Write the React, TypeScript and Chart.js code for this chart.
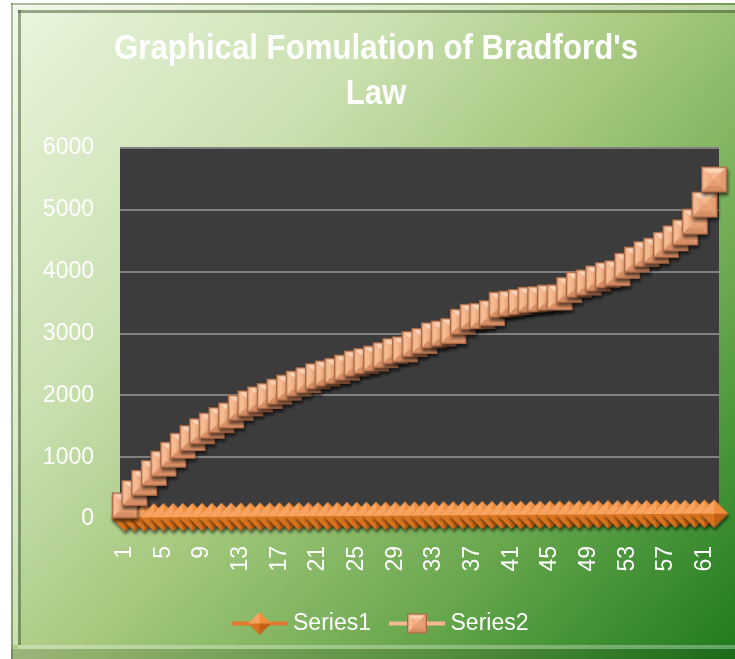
import React, { useEffect, useRef } from 'react';
import { Chart, registerables } from 'chart.js';

Chart.register(...registerables);

const categories = [
  '1', '2', '3', '4', '5', '6', '7', '8', '9', '10',
  '11', '12', '13', '14', '15', '16', '17', '18', '19', '20',
  '21', '22', '23', '24', '25', '26', '27', '28', '29', '30',
  '31', '32', '33', '34', '35', '36', '37', '38', '39', '40',
  '41', '42', '43', '44', '45', '46', '47', '48', '49', '50',
  '51', '52', '53', '54', '55', '56', '57', '58', '59', '60',
  '61', '62',
];

const series1 = [
  25, 26, 27, 28, 29, 30, 31, 32, 33, 34,
  35, 36, 37, 38, 39, 40, 41, 42, 43, 44,
  45, 46, 47, 48, 49, 50, 51, 52, 53, 54,
  55, 56, 57, 58, 59, 60, 61, 62, 63, 64,
  65, 66, 67, 68, 69, 70, 71, 72, 73, 74,
  75, 76, 77, 78, 79, 80, 81, 82, 83, 84,
  85, 86,
];

const series2 = [
  220, 420, 585, 745, 895, 1040, 1185, 1310, 1420, 1510,
  1600, 1675, 1800, 1870, 1935, 1990, 2060, 2125, 2190, 2245,
  2310, 2355, 2395, 2450, 2515, 2555, 2595, 2650, 2715, 2745,
  2830, 2880, 2970, 3000, 3040, 3190, 3270, 3285, 3330, 3465,
  3485, 3510, 3545, 3555, 3580, 3585, 3705, 3790, 3825, 3890,
  3945, 3975, 4095, 4195, 4285, 4340, 4435, 4540, 4635, 4810,
  5085, 5490,
];

const seriesNames = ['Series1', 'Series2'];
const titleLines = ["Graphical Fomulation of Bradford's", 'Law'];
const yMin = 0;
const yMax = 6000;
const yStep = 1000;

const TICK_FONT = "'Liberation Sans', Arial, sans-serif";
const TITLE_FONT = "'Liberation Sans', Arial, sans-serif";

type Pt = [number, number];

function poly(ctx: CanvasRenderingContext2D, pts: Pt[], col: string) {
  ctx.beginPath();
  ctx.moveTo(pts[0][0], pts[0][1]);
  for (let i = 1; i < pts.length; i++) ctx.lineTo(pts[i][0], pts[i][1]);
  ctx.closePath();
  ctx.fillStyle = col;
  ctx.fill();
}

function drawSquare(ctx: CanvasRenderingContext2D, cx: number, cy: number, s: number, shadow: boolean) {
  const h = s / 2;
  const x0 = cx - h, y0 = cy - h, x1 = cx + h, y1 = cy + h;
  if (shadow) {
    ctx.save();
    ctx.shadowColor = 'rgba(0,0,0,0.6)';
    ctx.shadowBlur = 3;
    ctx.shadowOffsetX = 1;
    ctx.shadowOffsetY = 3;
    ctx.fillStyle = '#b8724d';
    ctx.fillRect(x0, y0, s, s);
    ctx.restore();
  }
  ctx.fillStyle = '#c07a55';
  ctx.fillRect(x0, y0, s, s);
  const r = 1.5;
  const a0 = x0 + r, b0 = y0 + r, a1 = x1 - r, b1 = y1 - r;
  poly(ctx, [[a0, b0], [a1, b0], [cx, cy]], '#fcd4b6');
  poly(ctx, [[a0, b0], [cx, cy], [a0, b1]], '#f5bb93');
  poly(ctx, [[a1, b0], [a1, b1], [cx, cy]], '#e59d73');
  poly(ctx, [[a0, b1], [cx, cy], [a1, b1]], '#d88f66');
  ctx.fillStyle = 'rgba(240,166,122,0.6)';
  const inner = s * 0.26;
  ctx.fillRect(cx - inner, cy - inner, inner * 2, inner * 2);
  ctx.strokeStyle = '#a96744';
  ctx.lineWidth = 1;
  ctx.strokeRect(x0 + 0.5, y0 + 0.5, s - 1, s - 1);
}

function drawDiamond(ctx: CanvasRenderingContext2D, cx: number, cy: number, r: number, shadow: boolean) {
  if (shadow) {
    ctx.save();
    ctx.shadowColor = 'rgba(0,0,0,0.55)';
    ctx.shadowBlur = 3;
    ctx.shadowOffsetX = 1;
    ctx.shadowOffsetY = 3;
    poly(ctx, [[cx - r, cy], [cx, cy - r], [cx + r, cy], [cx, cy + r]], '#b85a14');
    ctx.restore();
  }
  poly(ctx, [[cx - r, cy], [cx, cy - r], [cx, cy]], '#f8a460');
  poly(ctx, [[cx, cy - r], [cx + r, cy], [cx, cy]], '#f0903e');
  poly(ctx, [[cx - r, cy], [cx, cy], [cx, cy + r]], '#d8741f');
  poly(ctx, [[cx, cy], [cx + r, cy], [cx, cy + r]], '#c06014');
}

function squareMarker(s: number): HTMLCanvasElement {
  const pad = 5;
  const c = document.createElement('canvas');
  c.width = s + pad * 2;
  c.height = s + pad * 2;
  const ctx = c.getContext('2d')!;
  drawSquare(ctx, c.width / 2, c.height / 2, s, true);
  return c;
}

function diamondMarker(r: number): HTMLCanvasElement {
  const pad = 5;
  const c = document.createElement('canvas');
  c.width = r * 2 + pad * 2;
  c.height = r * 2 + pad * 2;
  const ctx = c.getContext('2d')!;
  drawDiamond(ctx, c.width / 2, c.height / 2, r, true);
  return c;
}

function legendImage(kind: 'diamond' | 'square', lineColor: string): HTMLCanvasElement {
  const c = document.createElement('canvas');
  c.width = 56;
  c.height = 30;
  const ctx = c.getContext('2d')!;
  ctx.fillStyle = lineColor;
  ctx.fillRect(0, 13, 56, 4);
  if (kind === 'diamond') drawDiamond(ctx, 28, 15, 11.5, false);
  else drawSquare(ctx, 28, 15, 20, false);
  return c;
}

const bgPlugin = {
  id: 'bgFrame',
  beforeDraw(chart: any) {
    const { ctx, width, height, chartArea } = chart;
    ctx.save();
    ctx.fillStyle = '#ffffff';
    ctx.fillRect(0, 0, width, height);
    const g = ctx.createLinearGradient(11, 3, width, height);
    g.addColorStop(0, '#eaf5de');
    g.addColorStop(0.3, '#c9e0b0');
    g.addColorStop(0.5, '#a6c87e');
    g.addColorStop(0.75, '#66a64c');
    g.addColorStop(1, '#1f7a1f');
    ctx.fillStyle = g;
    ctx.fillRect(11, 3, width - 11, height - 3);
    // bevel frame
    ctx.fillStyle = 'rgba(60,80,40,0.35)';
    ctx.fillRect(11, 3, 2, height - 3);
    ctx.fillRect(11, 3, width - 11, 2);
    ctx.fillStyle = 'rgba(255,255,255,0.35)';
    ctx.fillRect(13, 5, 5, height - 19);
    ctx.fillRect(13, 5, width - 13, 5);
    ctx.fillStyle = 'rgba(50,70,30,0.45)';
    ctx.fillRect(18, 10, 3, height - 24);
    ctx.fillRect(18, 10, width - 18, 3);
    ctx.fillStyle = 'rgba(255,255,255,0.3)';
    ctx.fillRect(18, 645, width - 18, 4);
    ctx.fillStyle = 'rgba(0,0,0,0.12)';
    ctx.fillRect(11, 649, width - 11, height - 649);
    // plot area
    ctx.fillStyle = '#3c3c3c';
    ctx.fillRect(chartArea.left, chartArea.top, chartArea.right - chartArea.left, chartArea.bottom - chartArea.top);
    ctx.restore();
  },
  afterLayout(chart: any) {
    if (chart.legend) {
      chart.legend.left += 9;
      chart.legend.right += 9;
    }
  },
  afterDraw(chart: any) {
    // chart title, condensed bold white text
    const ctx = chart.ctx;
    ctx.save();
    ctx.fillStyle = '#ffffff';
    ctx.font = `bold 35px ${TITLE_FONT}`;
    ctx.textBaseline = 'alphabetic';
    ctx.textAlign = 'center';
    const w1 = ctx.measureText(titleLines[0]).width;
    const sx = 524 / w1;
    const baselines = [59, 104];
    titleLines.forEach((line, i) => {
      ctx.save();
      ctx.translate(376, baselines[i]);
      ctx.scale(sx, 1);
      ctx.fillText(line, 0, 0);
      ctx.restore();
    });
    ctx.restore();
  },
};

export default function App() {
  const ref = useRef<HTMLCanvasElement | null>(null);

  useEffect(() => {
    if (!ref.current) return;
    const sq = squareMarker(26);
    const dm = diamondMarker(14);
    const lg1 = legendImage('diamond', '#e4782f');
    const lg2 = legendImage('square', '#f6b792');

    const chart = new Chart(ref.current, {
      type: 'line',
      data: {
        labels: categories,
        datasets: [
          {
            label: seriesNames[0],
            data: series1,
            borderColor: '#e4782f',
            borderWidth: 3,
            pointStyle: dm as any,
            pointRadius: 13,
            order: 1,
            clip: false as any,
          },
          {
            label: seriesNames[1],
            data: series2,
            borderColor: '#f6b792',
            borderWidth: 3,
            pointStyle: sq as any,
            pointRadius: 13,
            order: 0,
            clip: false as any,
          },
        ],
      },
      options: {
        animation: false,
        responsive: false,
        maintainAspectRatio: false,
        layout: { padding: { left: 29, right: 16, top: 148, bottom: 14 } },
        plugins: {
          tooltip: { enabled: false },
          title: { display: false },
          legend: {
            display: true,
            position: 'bottom',
            labels: {
              color: '#ffffff',
              font: { family: TICK_FONT, size: 23 },
              usePointStyle: true,
              pointStyleWidth: 44,
              padding: 24,
              generateLabels: () => [
                { text: seriesNames[0], pointStyle: lg1 as any, fontColor: '#ffffff', hidden: false, datasetIndex: 0, lineWidth: 0, strokeStyle: 'transparent', fillStyle: 'transparent' },
                { text: seriesNames[1], pointStyle: lg2 as any, fontColor: '#ffffff', hidden: false, datasetIndex: 1, lineWidth: 0, strokeStyle: 'transparent', fillStyle: 'transparent' },
              ],
            },
          },
        },
        scales: {
          x: {
            type: 'category',
            offset: true,
            grid: { display: false, drawTicks: false },
            border: { display: false },
            ticks: {
              autoSkip: false,
              maxRotation: 90,
              minRotation: 90,
              padding: 27,
              color: '#ffffff',
              font: { family: TICK_FONT, size: 23 },
              callback: (_v: any, i: number) => (i % 4 === 0 ? categories[i] : ''),
            },
            afterFit: (s: any) => {
              s.height = 69;
              s.paddingLeft = 0;
              s.paddingRight = 0;
            },
          },
          y: {
            min: yMin,
            max: yMax,
            grid: { color: '#808080', lineWidth: 2, drawTicks: false },
            border: { display: false },
            ticks: {
              stepSize: yStep,
              padding: 26,
              color: '#ffffff',
              font: { family: TICK_FONT, size: 23 },
              callback: (v: any) => String(v),
            },
            afterFit: (s: any) => {
              s.width = 120 - 29;
            },
          },
        },
      },
      plugins: [bgPlugin],
    });
    return () => chart.destroy();
  }, []);

  return (
    <>
      <style>{'body{margin:0}'}</style>
      <canvas ref={ref} width={735} height={659} style={{ display: 'block', width: 735, height: 659 }} />
    </>
  );
}
